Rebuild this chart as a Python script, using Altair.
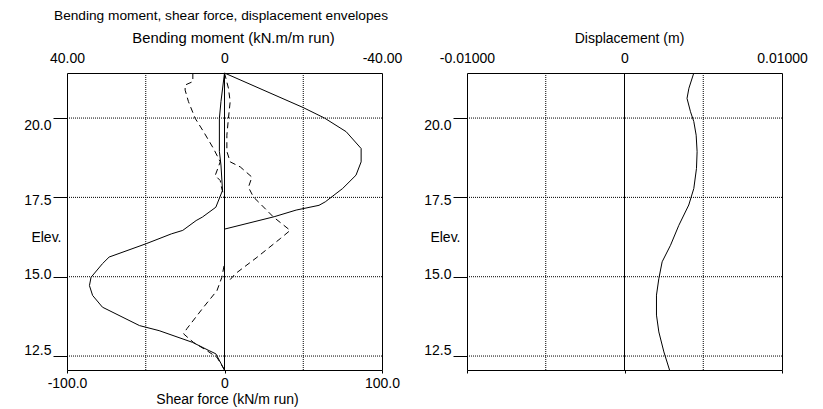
import altair as alt
import pandas as pd

FONT = "Liberation Sans"
MAIN_TITLE = "Bending moment,  shear force,  displacement envelopes"

# ---- data -----------------------------------------------------------------
# Bending moment envelope (kN.m/m run) - minimum (right lobe)
elev_mmin = [21.42, 20.33, 20.00, 19.57, 19.04, 18.62, 18.20, 17.78, 17.36, 17.25, 17.10, 16.89, 16.50, 12.06]
mom_min = [0, -20.0, -25.4, -30.9, -34.7, -34.7, -33.4, -30.0, -25.6, -24.0, -18.2, -12.6, 0, 0]
# Bending moment envelope - maximum (left lobe)
elev_mmax = [21.42, 20.52, 19.99, 18.95, 18.52, 17.72, 17.19, 16.88, 16.77, 16.46, 16.35, 16.04, 15.62,
             15.41, 14.98, 14.72, 14.41, 14.04, 13.46, 13.30, 12.93, 12.67, 12.57, 12.06]
mom_max = [0, 0.9, 1.3, 1.3, 0.9, 0.5, 2.2, 5.6, 7.2, 10.6, 13.5, 19.9, 29.3,
           31.0, 33.9, 34.3, 33.5, 31.0, 21.6, 16.6, 8.1, 3.9, 2.2, 0]
# Shear force envelope (kN/m run) - minimum
elev_smin = [21.42, 21.15, 21.04, 20.88, 20.52, 19.99, 19.57, 19.04, 18.62, 18.19, 18.03, 17.77, 17.50,
             15.42, 14.98, 14.56, 14.04, 13.36, 13.20, 12.93, 12.67, 12.46, 12.06]
shear_min = [-20.1, -20.1, -25.0, -25.0, -22.9, -18.6, -13.3, -7.0, -2.7, -5.9, -2.7, -1.7, 0,
             0, -1.7, -4.8, -13.3, -23.9, -26.0, -19.7, -11.2, -4.8, 0]
# Shear force envelope - maximum
elev_smax = [21.42, 20.94, 20.52, 19.99, 19.46, 18.95, 18.62, 18.46, 18.14, 17.82, 17.51, 17.30, 16.88,
             16.46, 16.20, 15.61, 15.09, 14.83]
shear_max = [0, 2.5, 3.6, 2.5, 1.5, 1.5, 3.6, 10.0, 17.4, 15.2, 18.4, 22.7, 31.1,
             41.7, 35.4, 20.6, 6.8, 2.2]
# Displacement (m)
elev_disp = [21.42, 20.94, 20.62, 20.20, 19.89, 19.46, 18.94, 18.41, 17.78, 17.26, 16.62, 15.99, 15.47,
             14.94, 14.42, 13.79, 13.26, 12.63, 12.06]
disp = [0.00440, 0.00409, 0.00397, 0.00419, 0.00440, 0.00455, 0.00461, 0.00457, 0.00440, 0.00408,
        0.00345, 0.00292, 0.00239, 0.00218, 0.00203, 0.00203, 0.00218, 0.00250, 0.00286]

elev_ticks = [12.5, 15.0, 17.5, 20.0]
elev_domain = [12.06, 21.42]
moment_ticks = [40, 0, -40]
shear_ticks = [-100, 0, 100]
shear_grid = [-50, 50]
disp_ticks = [-0.01, 0, 0.01]
disp_grid = [-0.005, 0.005]


def series(name, elev, val):
    return pd.DataFrame({"s": name, "elev": elev, "v": val, "i": range(len(elev))})


moment_df = pd.concat([series("min", elev_mmin, mom_min), series("max", elev_mmax, mom_max)])
shear_df = pd.concat([series("min", elev_smin, shear_min), series("max", elev_smax, shear_max)])
disp_df = series("disp", elev_disp, disp)

W, H = 315, 297
Y_SCALE = alt.Scale(domain=elev_domain, nice=False, zero=False)


def label_expr(fmt):
    # plain hyphen for negatives, bare "0" at the origin
    return ("datum.value == 0 ? '0' : (datum.value < 0 ? '-' + format(-datum.value, '%s') "
            ": format(datum.value, '%s'))" % (fmt, fmt))


def y_axis(title_x):
    return alt.Axis(
        values=elev_ticks, format=".1f", title="Elev.", titleAngle=0, titleAlign="right",
        titleBaseline="middle", titleX=title_x, titleY=164, tickSize=14, tickColor="black",
        labelPadding=2, labelBaseline="middle", labelFlush=False,
        labelOffset={"condition": [{"test": "datum.value == 20", "value": 7},
                                   {"test": "datum.value == 17.5", "value": 3},
                                   {"test": "datum.value == 15", "value": -2}],
                     "value": -6},
        grid=False, domain=False,
    )


def vrules(values, dom, dash=None, axis=None):
    df = pd.DataFrame({"x": values})
    kw = {"strokeDash": dash} if dash else {}
    return alt.Chart(df).mark_rule(color="black", strokeWidth=1, **kw).encode(
        x=alt.X("x:Q", scale=alt.Scale(domain=dom, nice=False, zero=False), axis=axis))


def hrules(title_x):
    df = pd.DataFrame({"elev": elev_ticks})
    return alt.Chart(df).mark_rule(color="black", strokeWidth=1, strokeDash=[1, 1]).encode(
        y=alt.Y("elev:Q", scale=Y_SCALE, axis=y_axis(title_x)))


# ---- left panel -------------------------------------------------------------
title_layer = alt.Chart(pd.DataFrame({"t": [MAIN_TITLE]})).mark_text(
    align="left", baseline="alphabetic", font=FONT, fontSize=13.7, color="black"
).encode(x=alt.value(-13), y=alt.value(-53.5), text="t:N")

grid_left = vrules(shear_grid, [-100, 100], dash=[1, 1])
zero_left = vrules([0], [-100, 100])

moment_layer = alt.Chart(moment_df).mark_line(color="black", strokeWidth=1).encode(
    x=alt.X("v:Q", scale=alt.Scale(domain=[-40, 40], reverse=True, nice=False, zero=False),
            axis=alt.Axis(orient="top", values=moment_ticks, labelExpr=label_expr(".2f"),
                          ticks=False, tickSize=0, labelPadding=11, labelBaseline="alphabetic",
                          labelFlush=False, labelOverlap=False, domain=False, grid=False,
                          title="Bending moment (kN.m/m run)", titleX=166, titleY=-31,
                          titleBaseline="alphabetic", titleFontSize=14.8)),
    y=alt.Y("elev:Q", scale=Y_SCALE), detail="s:N", order="i:Q",
)

shear_layer = alt.Chart(shear_df).mark_line(color="black", strokeWidth=1, strokeDash=[6, 4]).encode(
    x=alt.X("v:Q", scale=alt.Scale(domain=[-100, 100], nice=False, zero=False),
            axis=alt.Axis(orient="bottom", values=shear_ticks, labelExpr=label_expr(".1f"),
                          ticks=True, tickSize=3, tickColor="black", labelPadding=14,
                          labelBaseline="alphabetic", labelFlush=False, labelOverlap=False,
                          domain=False, grid=False,
                          title="Shear force (kN/m run)", titleX=160, titleY=33,
                          titleBaseline="alphabetic")),
    y=alt.Y("elev:Q", scale=Y_SCALE), detail="s:N", order="i:Q",
)

left = alt.layer(hrules(-6), grid_left, zero_left, moment_layer, shear_layer, title_layer).resolve_scale(
    x="independent").properties(width=W, height=H)

# ---- right panel ------------------------------------------------------------
grid_right = vrules(disp_grid, [-0.01, 0.01], dash=[1, 1])
zero_right = vrules([0], [-0.01, 0.01], axis=alt.Axis(
    orient="bottom", values=disp_ticks, labels=False, ticks=True, tickSize=3, tickColor="black",
    domain=False, grid=False, title=None))

disp_layer = alt.Chart(disp_df).mark_line(color="black", strokeWidth=1).encode(
    x=alt.X("v:Q", scale=alt.Scale(domain=[-0.01, 0.01], nice=False, zero=False),
            axis=alt.Axis(orient="top", values=disp_ticks, labelExpr=label_expr(".5f"),
                          ticks=False, tickSize=0, labelPadding=11, labelBaseline="alphabetic",
                          labelFlush=False, labelOverlap=False, domain=False, grid=False,
                          title="Displacement (m)", titleX=162, titleY=-31,
                          titleBaseline="alphabetic")),
    y=alt.Y("elev:Q", scale=Y_SCALE),
    order="i:Q",
)

right = alt.layer(hrules(-7), grid_right, zero_right, disp_layer).resolve_scale(x="independent").properties(
    width=W, height=H)

chart = alt.hconcat(left, right, spacing=85, bounds="flush").properties(
    padding={"left": 23, "top": 8, "right": 0, "bottom": 0}, background="white"
).configure_view(stroke="black", strokeWidth=1).configure_axis(
    labelFont=FONT, titleFont=FONT, labelFontSize=14, titleFontSize=14,
    labelColor="black", titleColor="black", titleFontWeight="normal",
)

chart.save("out.html", embed_options={"renderer": "svg", "actions": False})
